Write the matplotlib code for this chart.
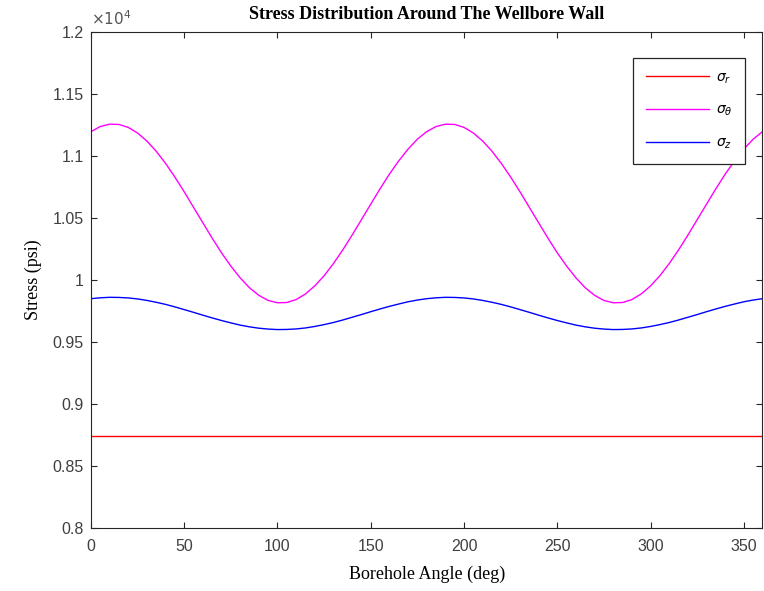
import numpy as np
import matplotlib
matplotlib.use('Agg')
import matplotlib.pyplot as plt

# ---------------------------------- Data ---------------------------------- #
angle = np.arange(0, 361, 5)
# one period (0..175 deg) (psi)
sigma_theta_half = [11196, 11237, 11256, 11254, 11230, 11185, 11120, 11038, 10940,
                    10830, 10711, 10586, 10461, 10337, 10219, 10112, 10017, 9937,
                    9876, 9835, 9816, 9818, 9842, 9887, 9952, 10034, 10132, 10242,
                    10361, 10486, 10611, 10735, 10853, 10960, 11055, 11135]
sigma_z_half = [9849, 9856, 9860, 9859, 9855, 9847, 9835, 9820, 9803,
                9783, 9761, 9739, 9716, 9694, 9673, 9654, 9636, 9622,
                9611, 9604, 9600, 9601, 9605, 9613, 9625, 9640, 9657, 9677,
                9699, 9721, 9744, 9766, 9787, 9806, 9824, 9838]
sigma_theta = sigma_theta_half + sigma_theta_half + [11196]
sigma_z = sigma_z_half + sigma_z_half + [9849]
sigma_r = [8745] * len(angle)

xticks = [0, 50, 100, 150, 200, 250, 300, 350]
yticks = [0.8, 0.85, 0.9, 0.95, 1.0, 1.05, 1.1, 1.15, 1.2]
yticklabels = ['0.8', '0.85', '0.9', '0.95', '1', '1.05', '1.1', '1.15', '1.2']

# ---------------------------------- Plot ---------------------------------- #
axcol = '#262626'
fig = plt.figure(figsize=(7.64, 5.91), dpi=100)
ax = fig.add_axes([0.119, 0.1066, 0.879, 0.8394])

ax.plot(angle, np.array(sigma_r) / 1e4, color='red', lw=1.0, label=r'$\sigma_r$')
ax.plot(angle, np.array(sigma_theta) / 1e4, color='magenta', lw=1.0, label=r'$\sigma_\theta$')
ax.plot(angle, np.array(sigma_z) / 1e4, color='blue', lw=1.0, label=r'$\sigma_z$')

ax.set_xlim(0, 360)
ax.set_ylim(0.8, 1.2)
ax.set_xticks(xticks)
ax.set_yticks(yticks)
ax.set_yticklabels(yticklabels)
ax.tick_params(direction='in', top=True, right=True, length=4, width=0.8,
               colors=axcol, labelsize=11.5)
ax.tick_params(axis='x', pad=8)
ax.tick_params(axis='y', pad=5)
for lab in ax.get_xticklabels() + ax.get_yticklabels():
    lab.set_family('Liberation Sans')
    lab.set_color('#404040')
for s in ax.spines.values():
    s.set_color(axcol)
    s.set_linewidth(0.8)

ax.text(0.0, 1.008, r'$\times10^4$', transform=ax.transAxes, ha='left', va='bottom',
        fontsize=11, color='#555555', family='DejaVu Sans')

ax.set_title('Stress Distribution Around The Wellbore Wall', family='Liberation Serif',
             fontweight='bold', fontsize=13, pad=9)
ax.set_xlabel('Borehole Angle (deg)', family='Liberation Serif', fontsize=13, labelpad=8)
ax.set_ylabel('Stress (psi)', family='Liberation Serif', fontsize=13, labelpad=8)

leg = ax.legend(loc='upper right', bbox_to_anchor=(0.985, 0.962), fontsize=10,
                fancybox=False, edgecolor=axcol, framealpha=1, handlelength=4.6,
                labelspacing=1.25, borderpad=0.9, handletextpad=0.5)
leg.get_frame().set_linewidth(0.9)

plt.savefig('out.png', dpi=100)
